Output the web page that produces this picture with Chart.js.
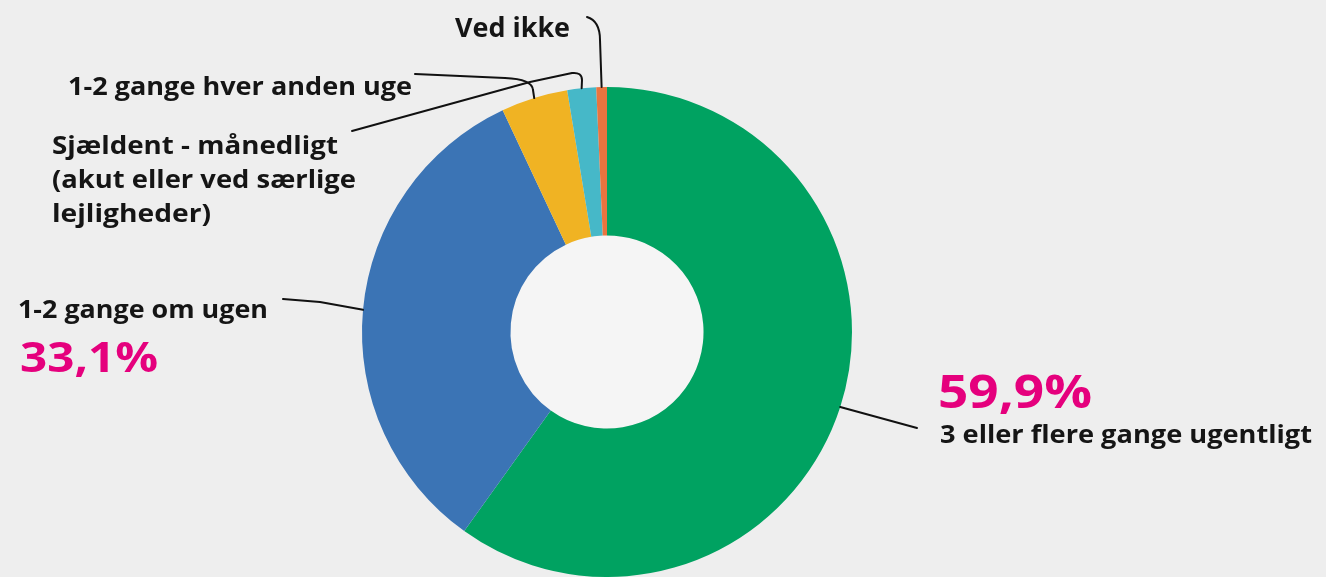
<!DOCTYPE html>
<html>
<head>
<meta charset="utf-8">
<script src="https://cdn.jsdelivr.net/npm/chart.js@4.4.0/dist/chart.umd.min.js"></script>
<style>
  html, body { margin: 0; padding: 0; background: #eeeeee; }
  #wrap { position: relative; width: 1326px; height: 577px; }
  canvas { display: block; }
</style>
</head>
<body>
<div id="wrap"><canvas id="c" width="1326" height="577"></canvas></div>
<script>
// ---- Data ----
const categories = [
  "3 eller flere gange ugentligt",
  "1-2 gange om ugen",
  "1-2 gange hver anden uge",
  "Sjældent - månedligt (akut eller ved særlige lejligheder)",
  "Ved ikke"
];
const values = [59.9, 33.1, 4.4, 1.9, 0.7];
const colors = ["#00a261", "#3b74b5", "#f0b323", "#46b8c8", "#e9743f"];
const percentLabels = ["59,9%", "33,1%"];

// ---- Labels & leader lines (layout) ----
const TEXT = "#151515";
const MAGENTA = "#e5007d";
const FONT = "'Open Sans', Lato, sans-serif";

const labelsPlugin = {
  id: 'labels',
  beforeDatasetsDraw(chart) {
    const arc = chart.getDatasetMeta(0).data[0];
    const ctx = chart.ctx;
    ctx.save();
    ctx.fillStyle = "#f5f5f5";
    ctx.beginPath();
    ctx.arc(arc.x, arc.y, arc.innerRadius, 0, Math.PI * 2);
    ctx.fill();
    ctx.restore();
  },
  afterDraw(chart) {
    const ctx = chart.ctx;
    const arcs = chart.getDatasetMeta(0).data;
    const mid = (i) => {
      const a = arcs[i];
      const ang = (a.startAngle + a.endAngle) / 2;
      return [a.x + a.outerRadius * Math.cos(ang), a.y + a.outerRadius * Math.sin(ang)];
    };
    ctx.save();
    ctx.strokeStyle = "#111";
    ctx.lineWidth = 2;
    ctx.lineJoin = "round";
    ctx.lineCap = "round";
    // green
    let p = mid(0);
    ctx.beginPath(); ctx.moveTo(p[0], p[1]); ctx.lineTo(917, 428); ctx.stroke();
    // blue
    p = mid(1);
    ctx.beginPath(); ctx.moveTo(283, 299); ctx.lineTo(320, 302); ctx.lineTo(p[0], p[1]); ctx.stroke();
    // yellow
    p = mid(2);
    ctx.beginPath(); ctx.moveTo(415, 74); ctx.lineTo(505, 78);
    ctx.quadraticCurveTo(532, 79, 533, 90); ctx.lineTo(p[0], p[1]); ctx.stroke();
    // teal
    p = mid(3);
    ctx.beginPath(); ctx.moveTo(352, 131); ctx.lineTo(530, 82); ctx.lineTo(572, 73);
    ctx.quadraticCurveTo(582, 72, 582, 80); ctx.lineTo(p[0], p[1]); ctx.stroke();
    // orange
    p = mid(4);
    ctx.beginPath(); ctx.moveTo(587, 17); ctx.quadraticCurveTo(600, 21, 600, 40);
    ctx.lineTo(p[0], p[1]); ctx.stroke();

    // texts, stretched to the measured widths of the reference
    ctx.textBaseline = "alphabetic";
    ctx.textAlign = "left";
    const t = (s, x, y, size, color, targetW, weight) => {
      ctx.save();
      ctx.font = (weight || "700") + " " + size + "px " + FONT;
      ctx.fillStyle = color;
      const w = ctx.measureText(s).width;
      ctx.translate(x, y);
      ctx.scale(targetW / w, 1);
      ctx.fillText(s, 0, 0);
      ctx.restore();
    };
    t("Ved ikke", 455, 37, 26, TEXT, 115);
    t("1-2 gange hver anden uge", 68, 95, 25, TEXT, 344);
    t("Sjældent - månedligt", 52, 154, 25, TEXT, 286);
    t("(akut eller ved særlige", 52, 188, 25, TEXT, 304);
    t("lejligheder)", 52, 222, 25, TEXT, 159);
    t("1-2 gange om ugen", 18, 318, 25, TEXT, 250);
    t(percentLabels[1], 20, 372, 42, MAGENTA, 138, "700");
    t(percentLabels[0], 938, 408, 46, MAGENTA, 154, "700");
    t("3 eller flere gange ugentligt", 940, 443, 25, TEXT, 372);
    ctx.restore();
  }
};

new Chart(document.getElementById('c'), {
  type: 'doughnut',
  data: {
    labels: categories,
    datasets: [{
      data: values,
      backgroundColor: colors,
      borderWidth: 0,
      hoverOffset: 0
    }]
  },
  options: {
    responsive: false,
    maintainAspectRatio: false,
    animation: false,
    cutout: '39.4%',
    rotation: 0,
    layout: { padding: { left: 362, right: 474, top: 87, bottom: 0 } },
    plugins: {
      legend: { display: false },
      tooltip: { enabled: false },
      title: { display: false }
    },
    events: []
  },
  plugins: [labelsPlugin]
});
</script>
</body>
</html>
